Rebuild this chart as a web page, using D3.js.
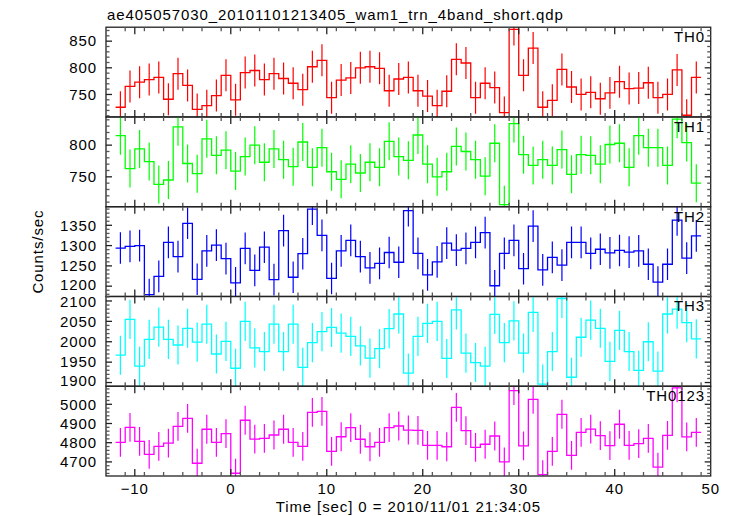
<!DOCTYPE html>
<html>
<head>
<meta charset="utf-8">
<script src="https://cdn.jsdelivr.net/npm/d3@7"></script>
<style>
  html, body { margin: 0; padding: 0; background: #fff; }
  svg { display: block; }
  text { font-family: "Liberation Sans", Arial, Helvetica, sans-serif; font-size: 15px; letter-spacing: 0.9px; fill: #000; }
</style>
</head>
<body>
<svg id="chart" width="732" height="516"></svg>
<script>
// ---------------- data ----------------
const title = "ae405057030_20101101213405_wam1_trn_4band_short.qdp";
const xLabel = "Time [sec] 0 = 2010/11/01 21:34:05";
const yLabel = "Counts/sec";
const panelNames = ["TH0", "TH1", "TH2", "TH3", "TH0123"];
const panelColors = ["#ff0000", "#00ff00", "#0000ff", "#00ffff", "#ff00ff"];

// time bins: 1 s wide, first bin [-12,-11], last bin [48,49]
const binStart = -12;
const binWidth = 1;

const th0 = [726,765,773,778,782,741,789,767,722,729,748,786,740,791,795,778,789,780,771,759,802,814,744,777,781,800,802,799,757,779,782,757,747,729,756,816,809,744,771,763,716,872,786,837,726,739,797,764,750,754,742,753,774,761,762,772,744,750,796,711,782];
const th1 = [815,763,794,774,738,745,829,771,755,810,784,792,759,782,800,773,794,777,766,805,765,796,758,746,770,756,773,765,806,782,776,816,770,750,758,798,790,777,751,803,706,834,785,768,777,768,793,754,785,784,770,801,803,765,815,796,796,768,841,804,740];
const th2 = [1294,1298,1300,1179,1224,1308,1273,1355,1217,1287,1301,1268,1208,1293,1239,1296,1216,1337,1222,1280,1390,1325,1219,1287,1313,1273,1245,1256,1283,1259,1386,1281,1228,1260,1306,1289,1293,1308,1332,1201,1281,1313,1243,1348,1240,1271,1252,1308,1308,1281,1291,1282,1288,1284,1287,1254,1210,1254,1363,1269,1324];
const th3 = [1967,2055,1940,2006,2036,2006,1992,2033,1999,2043,1970,2001,1935,2050,1985,1976,2043,1976,2043,1937,1998,2025,2035,2021,2013,1990,1960,1983,2032,2068,1923,2013,2045,2050,1959,2078,1972,1949,1940,2067,1998,2051,1972,2072,1896,1976,2106,1913,2011,2053,2033,1952,2028,1976,1930,2000,1928,2068,2080,2047,2007];
const th0123 = [4802,4880,4807,4739,4781,4798,4885,4927,4693,4870,4802,4847,4641,4917,4819,4823,4840,4870,4802,4781,4958,4963,4755,4831,4878,4818,4779,4802,4878,4887,4866,4864,4786,4786,4779,4984,4863,4776,4792,4835,4700,5071,4783,5026,4634,4755,4948,4734,4854,4871,4837,4785,4896,4786,4795,4823,4673,4838,5085,4830,4854];
// 1-sigma error per series (counts/sec)
const seriesErrors = [30, 30, 39, 48, 75];

const xDomain = [-13, 50];
const xMajorTicks = [-10, 0, 10, 20, 30, 40, 50];
const yDomains = [[707.8, 876.2], [702.8, 844.5], [1174.6, 1395.8], [1890.9, 2111], [4626.6, 5094]];
const yMajorTicks = [[750, 800, 850], [750, 800], [1200, 1250, 1300, 1350], [1900, 1950, 2000, 2050, 2100], [4700, 4800, 4900, 5000]];
const yMinorSteps = [10, 10, 10, 10, 20];
const xMinorStep = 2;

const series = [th0, th1, th2, th3, th0123];

// ---------------- layout ----------------
const svg = d3.select("#chart");
const plotLeft = 106, plotRight = 710.7, plotTop = 27.2, plotBottom = 476;
const nP = series.length;
const ph = (plotBottom - plotTop) / nP;

const x = d3.scaleLinear().domain(xDomain).range([plotLeft, plotRight]);

svg.append("text").attr("x", 107).attr("y", 20).text(title);

const defs = svg.append("defs");

series.forEach((vals, p) => {
  const y0 = plotTop + p * ph, y1 = y0 + ph;
  const y = d3.scaleLinear().domain(yDomains[p]).range([y1, y0]);
  const g = svg.append("g");
  const color = panelColors[p];
  const err = seriesErrors[p];

  defs.append("clipPath").attr("id", "clip" + p)
    .append("rect").attr("x", plotLeft).attr("y", y0).attr("width", plotRight - plotLeft).attr("height", ph);

  const data = vals.map((v, i) => ({ t0: binStart + i * binWidth, t1: binStart + (i + 1) * binWidth, v }));

  const plot = g.append("g").attr("clip-path", `url(#clip${p})`);

  // error bars
  plot.selectAll("line.err").data(data).enter().append("line")
    .attr("class", "err")
    .attr("x1", d => x((d.t0 + d.t1) / 2)).attr("x2", d => x((d.t0 + d.t1) / 2))
    .attr("y1", d => y(d.v - err)).attr("y2", d => y(d.v + err))
    .attr("stroke", color).attr("stroke-width", 1.2);

  // step histogram
  const pts = data.map(d => [d.t0, d.v]);
  pts.push([data[data.length - 1].t1, data[data.length - 1].v]);
  const line = d3.line().x(d => x(d[0])).y(d => y(d[1])).curve(d3.curveStepAfter);
  plot.append("path").attr("d", line(pts)).attr("fill", "none")
    .attr("stroke", color).attr("stroke-width", 1.3);

  // frame
  g.append("rect").attr("x", plotLeft).attr("y", y0).attr("width", plotRight - plotLeft).attr("height", ph)
    .attr("fill", "none").attr("stroke", "#222").attr("stroke-width", 1.3);

  // x ticks (inward, top and bottom)
  const xMinor = d3.range(xDomain[0], xDomain[1] + 0.001, xMinorStep).filter(t => t > xDomain[0] && t < xDomain[1] && xMajorTicks.indexOf(t) < 0);
  const xt = g.append("g").attr("stroke", "#222").attr("stroke-width", 1.3);
  xMajorTicks.filter(t => t < xDomain[1]).forEach(t => {
    xt.append("line").attr("x1", x(t)).attr("x2", x(t)).attr("y1", y1).attr("y2", y1 - 7);
    xt.append("line").attr("x1", x(t)).attr("x2", x(t)).attr("y1", y0).attr("y2", y0 + 7);
  });
  xMinor.forEach(t => {
    xt.append("line").attr("x1", x(t)).attr("x2", x(t)).attr("y1", y1).attr("y2", y1 - 4).attr("stroke", "#555");
    xt.append("line").attr("x1", x(t)).attr("x2", x(t)).attr("y1", y0).attr("y2", y0 + 4).attr("stroke", "#555");
  });

  // y ticks (inward, left and right)
  const dom = yDomains[p];
  const step = yMinorSteps[p];
  const yMinor = d3.range(Math.ceil(dom[0] / step) * step, dom[1], step).filter(t => yMajorTicks[p].indexOf(t) < 0);
  const yt = g.append("g").attr("stroke", "#222").attr("stroke-width", 1.3);
  yMajorTicks[p].forEach(t => {
    yt.append("line").attr("x1", plotLeft).attr("x2", plotLeft + 6).attr("y1", y(t)).attr("y2", y(t));
    yt.append("line").attr("x1", plotRight).attr("x2", plotRight - 6).attr("y1", y(t)).attr("y2", y(t));
  });
  yMinor.forEach(t => {
    yt.append("line").attr("x1", plotLeft).attr("x2", plotLeft + 3.5).attr("y1", y(t)).attr("y2", y(t)).attr("stroke", "#555");
    yt.append("line").attr("x1", plotRight).attr("x2", plotRight - 3.5).attr("y1", y(t)).attr("y2", y(t)).attr("stroke", "#555");
  });

  // y tick labels (nudge labels that sit right at a panel edge so neighbours do not collide)
  g.selectAll("text.yl").data(yMajorTicks[p]).enter().append("text")
    .attr("class", "yl")
    .attr("x", 97)
    .attr("y", d => {
      const yy = y(d);
      let off = 5.3;
      if (y1 - yy < 12) off -= 1.8;
      if (yy - y0 < 6) off += 1.0;
      return yy + off;
    })
    .attr("text-anchor", "end").text(d => d);

  // panel name
  g.append("text").attr("x", 705).attr("y", y0 + 15).attr("text-anchor", "end").text(panelNames[p]);

  // x tick labels on last panel
  if (p === nP - 1) {
    g.selectAll("text.xl").data(xMajorTicks).enter().append("text")
      .attr("class", "xl")
      .attr("x", d => x(d)).attr("y", 493.5)
      .attr("text-anchor", "middle").text(d => d < 0 ? "\u2212" + Math.abs(d) : d);
  }
});

svg.append("text").attr("x", (plotLeft + plotRight) / 2).attr("y", 511.5).attr("text-anchor", "middle").text(xLabel);
svg.append("text").attr("transform", "translate(43," + ((plotTop + plotBottom) / 2) + ") rotate(-90)")
  .attr("text-anchor", "middle").text(yLabel);
</script>
</body>
</html>
